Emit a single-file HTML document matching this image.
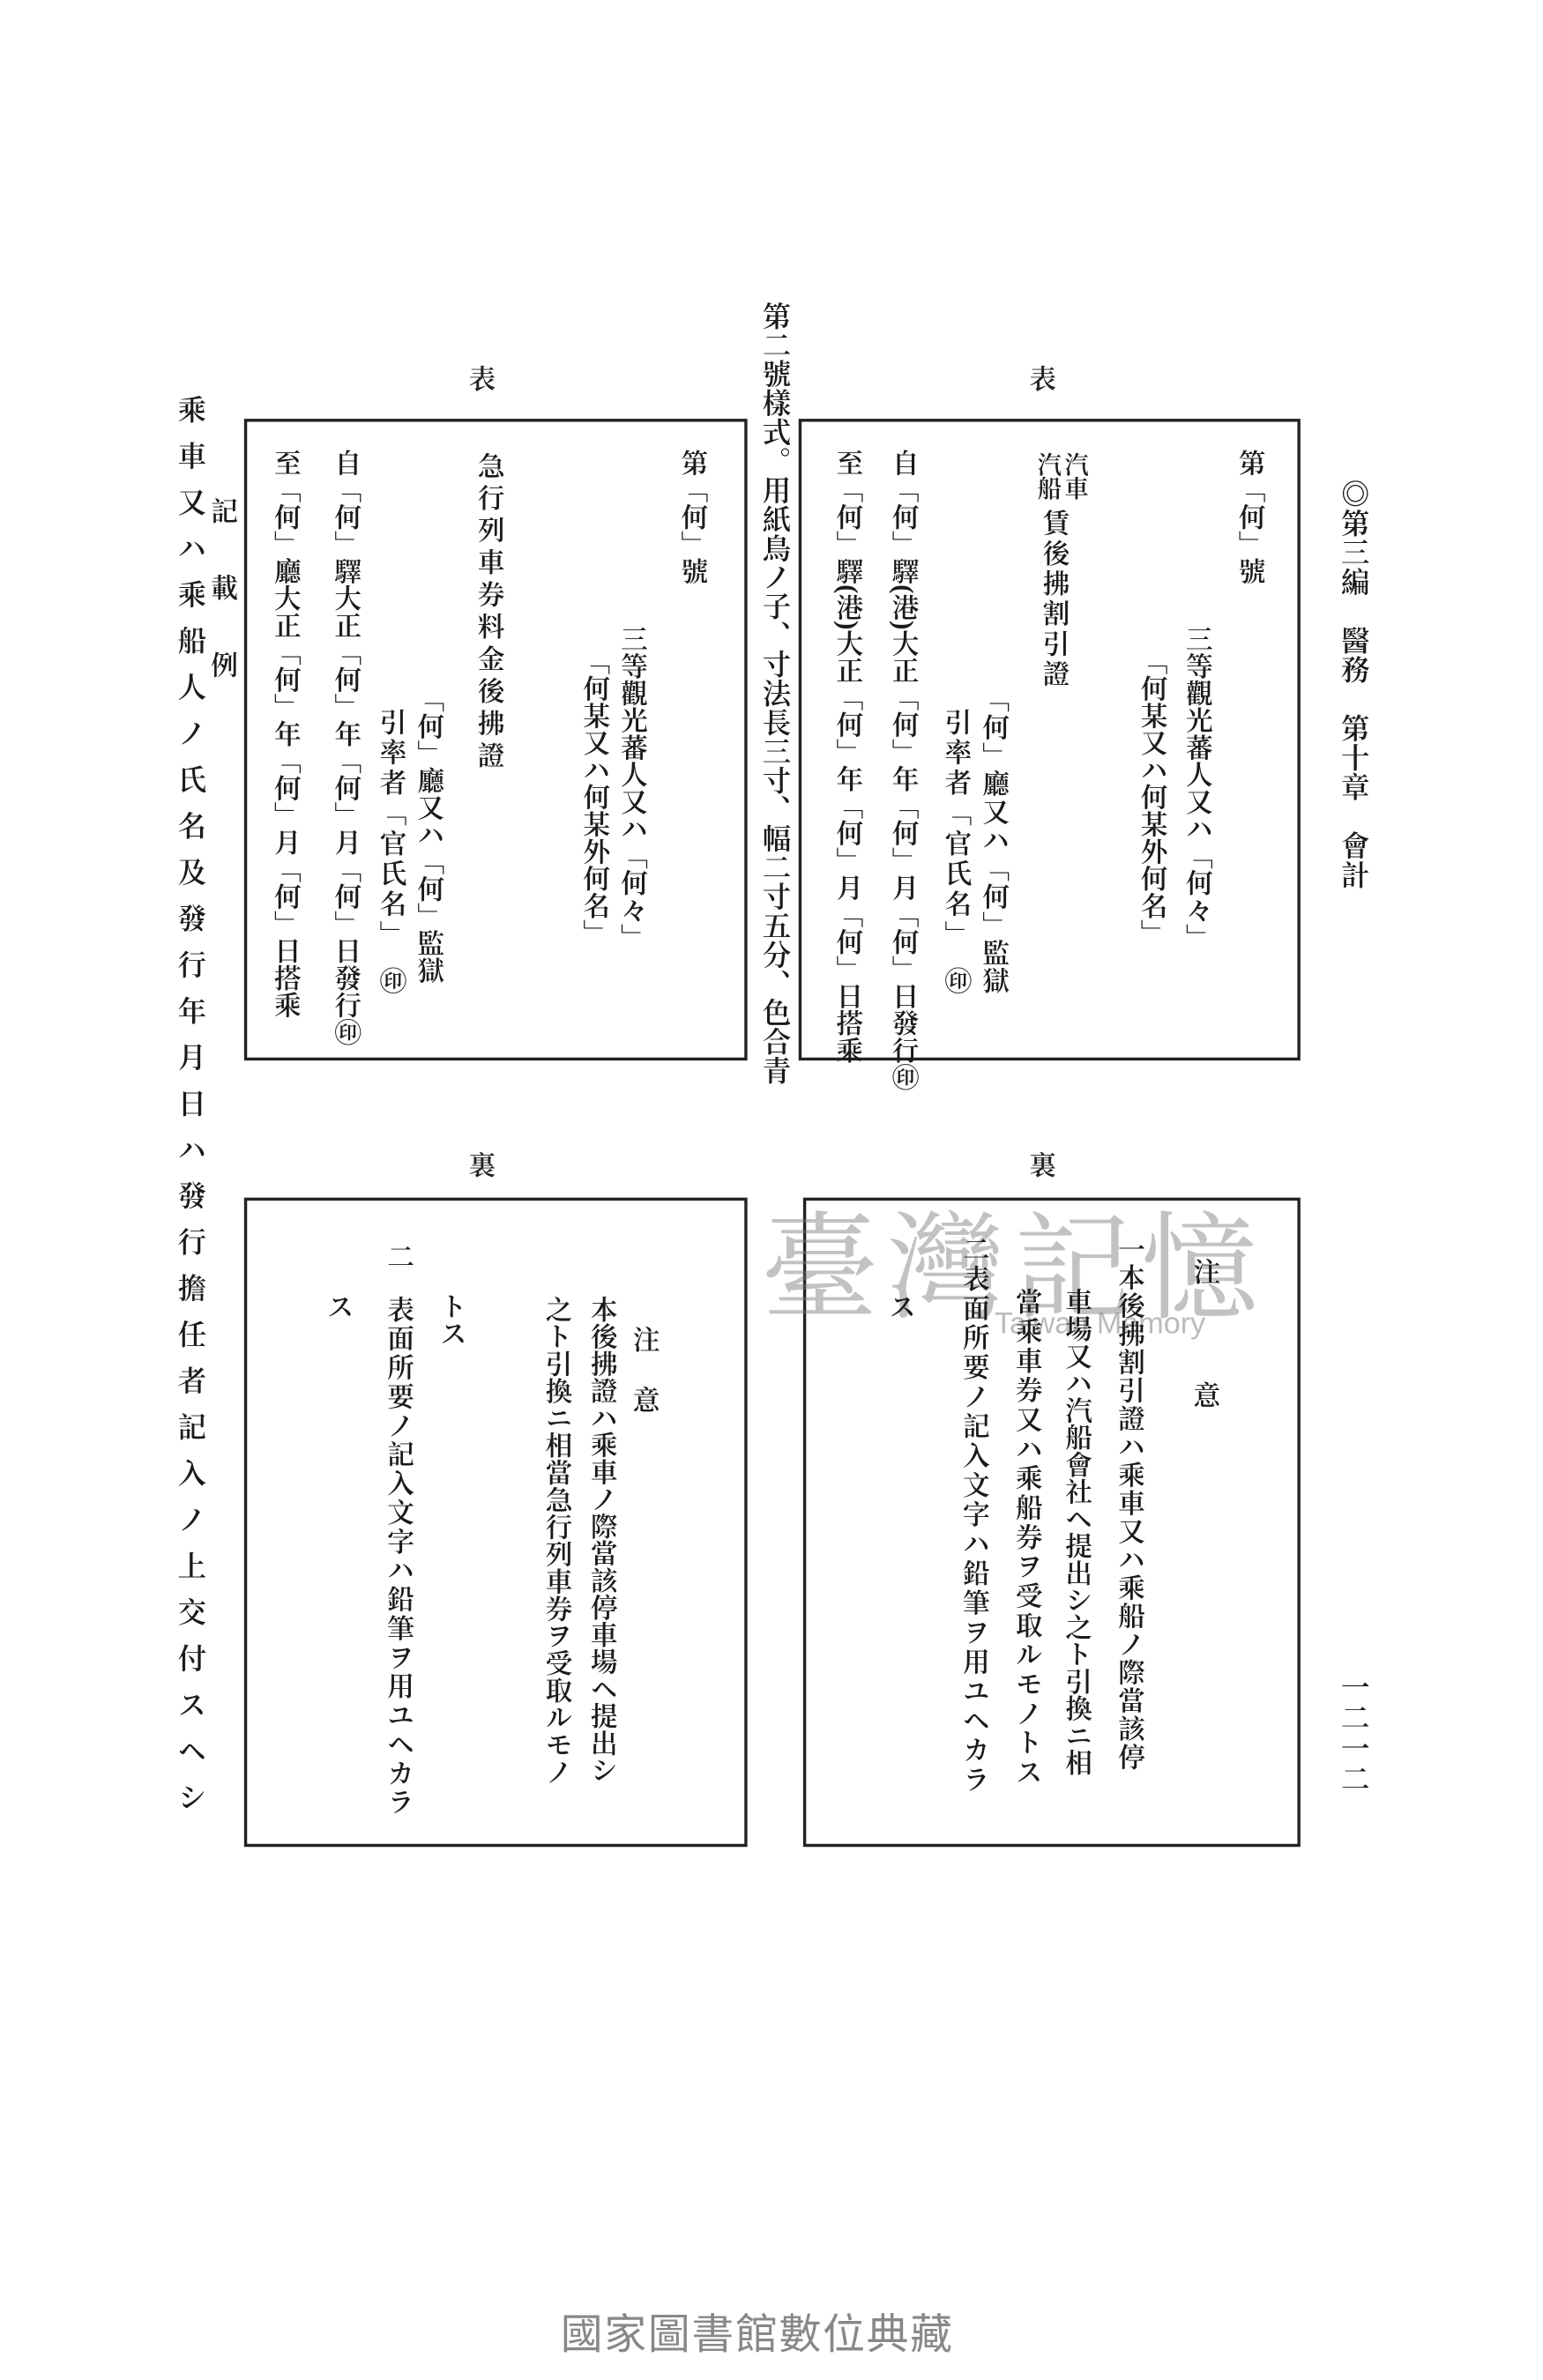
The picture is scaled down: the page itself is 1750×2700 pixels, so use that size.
<!DOCTYPE html>
<html><head><meta charset="utf-8">
<style>
html,body{margin:0;padding:0;background:#fff;}
#pg{position:relative;width:1750px;height:2700px;overflow:hidden;background:#fff;}
#w{position:absolute;left:0;top:0;width:1024px;height:1580px;transform:scale(1.70898);transform-origin:0 0;}
.b{position:absolute;border:2px solid #222;box-sizing:border-box;}
.c{position:absolute;writing-mode:vertical-rl;width:24px;font-family:"Liberation Serif","Noto Serif CJK SC","Noto Sans CJK JP",serif;font-size:18px;line-height:24px;color:#1a1a1a;white-space:nowrap;font-weight:600;}
.j{text-align:justify;text-align-last:justify;}
.h{position:absolute;font-family:"Liberation Serif","Noto Serif CJK SC",serif;font-size:18px;color:#222;font-weight:600;}
</style></head><body>
<div id="pg"><div id="w">

<!-- boxes -->
<div class="b" style="left:530px;top:278px;width:333px;height:426px"></div>
<div class="b" style="left:162px;top:278px;width:334px;height:426px"></div>
<div class="b" style="left:533px;top:795px;width:330px;height:431px"></div>
<div class="b" style="left:162px;top:795px;width:334px;height:431px"></div>

<!-- header labels -->
<div class="h" style="left:683px;top:238px">表</div>
<div class="h" style="left:311px;top:238px">表</div>
<div class="h" style="left:683px;top:760px">裏</div>
<div class="h" style="left:311px;top:760px">裏</div>

<!-- page header right -->
<div class="c j" style="left:885px;top:318px;height:272px;font-size:19px">◎第三編　醫務　第十章　會計</div>
<div class="c j" style="left:885px;top:1110px;height:80px;font-size:19px">一二一二</div>

<!-- center -->
<div class="c j" style="left:501px;top:200px;height:520px;font-size:19px">第二號樣式。用紙鳥ノ子、寸法長三寸、幅二寸五分、色合青</div>

<!-- left outside -->
<div class="c j" style="left:136px;top:330px;height:120px">記載例</div>
<div class="c j" style="left:113px;top:262px;height:940px;font-size:19px">乘車又ハ乘船人ノ氏名及發行年月日ハ發行擔任者記入ノ上交付スヘシ</div>

<!-- right top box -->
<div class="c j" style="left:818px;top:298px;height:78px">第「何」號</div>
<div class="c j" style="left:783px;top:415px;height:210px">三等觀光蕃人又ハ「何々」</div>
<div class="c j" style="left:753px;top:430px;height:195px">「何某又ハ何某外何名」</div>
<div class="c" style="left:703px;top:300px;font-size:16px;line-height:18px;width:18px">汽車</div>
<div class="c" style="left:685px;top:300px;font-size:16px;line-height:18px;width:18px">汽船</div>
<div class="c j" style="left:688px;top:338px;height:118px">賃後拂割引證</div>
<div class="c j" style="left:648px;top:455px;height:205px">「何」廳又ハ「何」監獄</div>
<div class="c j" style="left:623px;top:470px;height:190px">引率者「官氏名」　㊞</div>
<div class="c j" style="left:588px;top:298px;height:392px">自「何」驛(港)大正「何」年「何」月「何」日發行㊞</div>
<div class="c j" style="left:551px;top:298px;height:372px">至「何」驛(港)大正「何」年「何」月「何」日搭乘</div>

<!-- left top box -->
<div class="c j" style="left:448px;top:298px;height:78px">第「何」號</div>
<div class="c j" style="left:408px;top:415px;height:210px">三等觀光蕃人又ハ「何々」</div>
<div class="c j" style="left:383px;top:430px;height:195px">「何某又ハ何某外何名」</div>
<div class="c j" style="left:313px;top:300px;height:210px">急行列車券料金後拂證</div>
<div class="c j" style="left:273px;top:455px;height:190px">「何」廳又ハ「何」監獄</div>
<div class="c j" style="left:248px;top:470px;height:190px">引率者「官氏名」　㊞</div>
<div class="c j" style="left:218px;top:298px;height:348px">自「何」驛大正「何」年「何」月「何」日發行㊞</div>
<div class="c j" style="left:178px;top:298px;height:328px">至「何」廳大正「何」年「何」月「何」日搭乘</div>

<!-- watermark -->
<div style="position:absolute;left:505px;top:780px;font-family:'Noto Serif CJK SC',serif;font-size:78px;color:rgba(120,120,120,0.45);letter-spacing:6px;white-space:nowrap">臺灣記憶</div>
<div style="position:absolute;left:660px;top:868px;font-family:'Liberation Sans',sans-serif;font-size:20px;color:rgba(120,120,120,0.5);white-space:nowrap">Taiwan Memory</div>

<!-- bottom right box -->
<div class="c j" style="left:788px;top:835px;height:100px">注意</div>
<div class="c j" style="left:738px;top:820px;height:355px">一本後拂割引證ハ乘車又ハ乘船ノ際當該停</div>
<div class="c j" style="left:703px;top:855px;height:320px">車場又ハ汽船會社ヘ提出シ之ト引換ニ相</div>
<div class="c j" style="left:670px;top:855px;height:330px">當乘車券又ハ乘船券ヲ受取ルモノトス</div>
<div class="c j" style="left:635px;top:820px;height:370px">二表面所要ノ記入文字ハ鉛筆ヲ用ユヘカラ</div>
<div class="c" style="left:586px;top:858px">ス</div>

<!-- bottom left box -->
<div class="c j" style="left:416px;top:880px;height:58px">注意</div>
<div class="c j" style="left:388px;top:860px;height:320px">本後拂證ハ乘車ノ際當該停車場ヘ提出シ</div>
<div class="c j" style="left:358px;top:860px;height:325px">之ト引換ニ相當急行列車券ヲ受取ルモノ</div>
<div class="c" style="left:288px;top:858px">トス</div>
<div class="c" style="left:253px;top:825px">二</div>
<div class="c j" style="left:253px;top:860px;height:345px">表面所要ノ記入文字ハ鉛筆ヲ用ユヘカラ</div>
<div class="c" style="left:213px;top:858px">ス</div>

<!-- footer -->
<div style="position:absolute;left:372px;top:1528px;font-family:'Noto Sans CJK TC','Noto Sans CJK SC',sans-serif;font-size:28px;color:#888;letter-spacing:1px;white-space:nowrap">國家圖書館數位典藏</div>

</div></div>
</body></html>
